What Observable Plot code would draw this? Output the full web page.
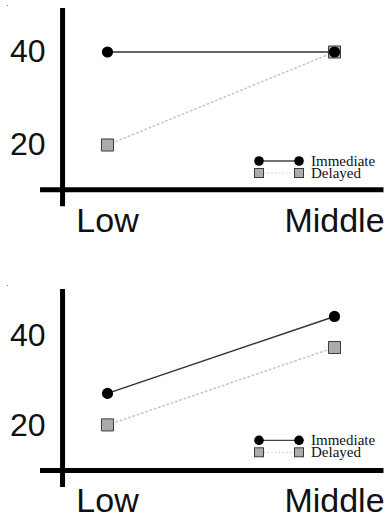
<!DOCTYPE html>
<html>
<head>
<meta charset="utf-8">
<script src="https://cdn.jsdelivr.net/npm/d3@7"></script>
<script src="https://cdn.jsdelivr.net/npm/@observablehq/plot@0.6"></script>
<style>
  html, body { margin: 0; padding: 0; background: #fff; }
  .panel { position: relative; width: 386px; height: 257px; }
  .panel svg.legend { position: absolute; left: 0; top: 0; pointer-events: none; }
</style>
</head>
<body>
<div id="charts"></div>
<script>
// ---- data ----
const categories = ["Low", "Middle"];
const seriesNames = ["Immediate", "Delayed"];
const panel1Immediate = [40, 40];
const panel1Delayed = [20, 40];
const panel2Immediate = [27.2, 44.3];
const panel2Delayed = [20.2, 37.4];
const yTicks = [20, 40];

const SANS = "'Liberation Sans', Arial, Helvetica, sans-serif";
const SERIF = "'Liberation Serif', 'Times New Roman', serif";

function rows(values, series) {
  return values.map((v, i) => ({ idx: i, category: categories[i], value: v, series }));
}

function panel(immediate, delayed, cfg) {
  const imm = rows(immediate, seriesNames[0]);
  const del = rows(delayed, seriesNames[1]);
  const plot = Plot.plot({
    width: 386,
    height: 257,
    marginLeft: 62,
    marginBottom: cfg.marginBottom,
    marginTop: 5,
    marginRight: 2,
    style: { fontFamily: SANS, background: "#fff", overflow: "visible" },
    x: { type: "linear", domain: [0, 1], range: [107, 334], axis: null },
    y: { type: "linear", domain: [20, 40], range: cfg.yRange, axis: null },
    marks: [
      // axis lines (crossed)
      Plot.ruleY([cfg.yBase], { x1: -0.295, x2: 1.218, stroke: "#000", strokeWidth: 5 }),
      Plot.ruleX([-0.198], { y1: cfg.yAxisLow, y2: cfg.yAxisHigh, stroke: "#000", strokeWidth: 5 }),
      Plot.axisY(yTicks, { label: null, tickSize: 0, tickPadding: 17, fontSize: 32, fontFamily: SANS, fill: "#111" }),
      Plot.axisX([0, 1], { label: null, tickFormat: i => categories[i], tickSize: 0, tickPadding: cfg.xPad, fontSize: 34, fontFamily: SANS, fill: "#111", anchor: "bottom" }),
      // series lines
      Plot.line(del, { x: "idx", y: "value", stroke: "#c4c4c4", strokeWidth: 1.5, strokeDasharray: "1.5,3" }),
      Plot.line(imm, { x: "idx", y: "value", stroke: "#333", strokeWidth: 1.5 }),
      Plot.dot(del, { x: "idx", y: "value", symbol: "square", r: 6.8, fill: "#ababab", stroke: "#3a3a3a", strokeWidth: 1 }),
      Plot.dot(imm, { x: "idx", y: "value", symbol: "circle", r: 5.6, fill: "#000" })
    ]
  });
  const wrap = document.createElement("div");
  wrap.className = "panel";
  wrap.appendChild(plot);
  // legend overlay
  const ly = cfg.legendY;
  const ns = "http://www.w3.org/2000/svg";
  const lg = document.createElementNS(ns, "svg");
  lg.setAttribute("class", "legend");
  lg.setAttribute("width", 386);
  lg.setAttribute("height", 257);
  lg.innerHTML = `
    <rect x="7" y="${cfg.dotY}" width="1" height="1" fill="#777"/>
    <line x1="259" x2="299" y1="${ly}" y2="${ly}" stroke="#444" stroke-width="1.3"/>
    <circle cx="259" cy="${ly}" r="4.8" fill="#000"/>
    <circle cx="299" cy="${ly}" r="4.8" fill="#000"/>
    <line x1="264" x2="294" y1="${ly + 12}" y2="${ly + 12}" stroke="#c4c4c4" stroke-width="1.2" stroke-dasharray="1.2,2.5"/>
    <rect x="254.5" y="${ly + 7.5}" width="9" height="9" fill="#ababab" stroke="#3a3a3a" stroke-width="1"/>
    <rect x="294.5" y="${ly + 7.5}" width="9" height="9" fill="#ababab" stroke="#3a3a3a" stroke-width="1"/>
    <text x="311" y="${ly + 4.5}" font-family="${SERIF}" font-size="15" fill="#111">${seriesNames[0]}</text>
    <text x="311" y="${ly + 16.5}" font-family="${SERIF}" font-size="15" fill="#111">${seriesNames[1]}</text>
  `;
  wrap.appendChild(lg);
  return wrap;
}

const root = document.getElementById("charts");
// panel 1: y(40)=51.5, y(20)=144.5, x-axis at 191
root.appendChild(panel(panel1Immediate, panel1Delayed, {
  yRange: [144.5, 51.5], yBase: 10.36, yAxisLow: 6.7, yAxisHigh: 49.35,
  marginBottom: 66, xPad: 16, legendY: 161, dotY: 5
}));
// panel 2: y(40)=78.3, y(20)=168.3, x-axis at 213
root.appendChild(panel(panel2Immediate, panel2Delayed, {
  yRange: [168.3, 78.3], yBase: 10.07, yAxisLow: 6.3, yAxisHigh: 50.3,
  marginBottom: 44, xPad: 17, legendY: 183.3, dotY: 28
}));
</script>
</body>
</html>
